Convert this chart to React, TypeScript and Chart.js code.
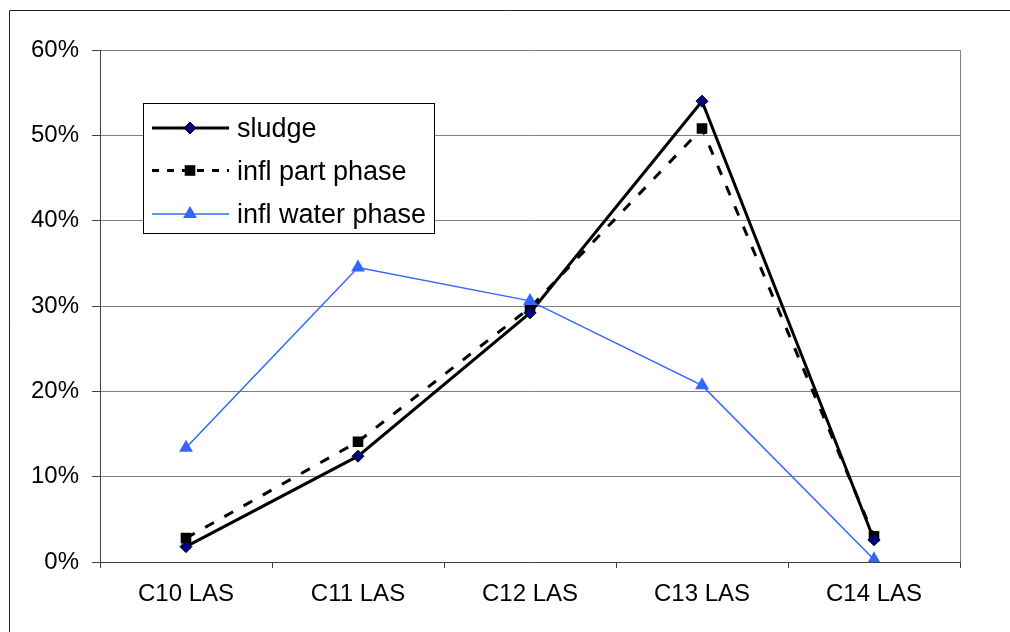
import React, { useEffect, useRef } from 'react';
import { Chart, registerables } from 'chart.js';

Chart.register(...registerables);

const categories = ['C10 LAS', 'C11 LAS', 'C12 LAS', 'C13 LAS', 'C14 LAS'];
const sludge = [1.8, 12.4, 29.2, 54.0, 2.6];
const inflPart = [2.8, 14.1, 29.8, 50.8, 3.0];
const inflWater = [13.4, 34.5, 30.6, 20.7, 0.3];
const yTickLabels = ['0%', '10%', '20%', '30%', '40%', '50%', '60%'];
const seriesNames = ['sludge', 'infl part phase', 'infl water phase'];

const FONT = 'Liberation Sans, Arial, sans-serif';
const BLUE = '#3366ff';

function drawMarker(ctx: CanvasRenderingContext2D, style: string, x: number, y: number, r: number, fill: string, stroke: string, bw: number) {
  ctx.save();
  ctx.setLineDash([]);
  ctx.beginPath();
  if (style === 'rectRot') {
    ctx.moveTo(x, y - r);
    ctx.lineTo(x + r, y);
    ctx.lineTo(x, y + r);
    ctx.lineTo(x - r, y);
    ctx.closePath();
  } else if (style === 'rect') {
    const s = Math.SQRT1_2 * r;
    ctx.rect(x - s, y - s, 2 * s, 2 * s);
  } else {
    const a = (2 * Math.PI) / 3;
    ctx.moveTo(x, y - r);
    ctx.lineTo(x + Math.sin(a) * r, y - Math.cos(a) * r);
    ctx.lineTo(x - Math.sin(a) * r, y - Math.cos(a) * r);
    ctx.closePath();
  }
  ctx.fillStyle = fill;
  ctx.fill();
  if (bw > 0) {
    ctx.strokeStyle = stroke;
    ctx.lineWidth = bw;
    ctx.stroke();
  }
  ctx.restore();
}

const framePlugin = {
  id: 'frame',
  beforeDatasetsDraw(chart: any) {
    const { ctx, chartArea } = chart;
    ctx.save();
    ctx.strokeStyle = '#808080';
    ctx.lineWidth = 1;
    ctx.beginPath();
    ctx.moveTo(Math.round(chartArea.right) + 0.5, chartArea.top);
    ctx.lineTo(Math.round(chartArea.right) + 0.5, chartArea.bottom);
    ctx.stroke();
    ctx.restore();
  },
  afterDraw(chart: any) {
    const ctx = chart.ctx as CanvasRenderingContext2D;
    ctx.save();
    ctx.strokeStyle = '#222';
    ctx.lineWidth = 1;
    ctx.beginPath();
    ctx.moveTo(9.5, 640);
    ctx.lineTo(9.5, 10.5);
    ctx.lineTo(1020, 10.5);
    ctx.stroke();

    const bx = 143.5, by = 103.5, bw = 291, bh = 130;
    ctx.fillStyle = '#fff';
    ctx.fillRect(bx, by, bw, bh);
    ctx.strokeStyle = '#000';
    ctx.strokeRect(bx, by, bw, bh);
    const rows = [128, 170.5, 214];
    const legendDash = [[], [7, 8], []];
    chart.data.datasets.forEach((ds: any, i: number) => {
      const y = rows[i];
      ctx.save();
      ctx.strokeStyle = ds.borderColor;
      ctx.lineWidth = ds.borderWidth;
      ctx.setLineDash(legendDash[i]);
      ctx.beginPath();
      ctx.moveTo(152, y);
      ctx.lineTo(229, y);
      ctx.stroke();
      ctx.restore();
      drawMarker(ctx, ds.pointStyle, 190, y, ds.pointRadius, ds.pointBackgroundColor, ds.pointBorderColor, ds.pointBorderWidth);
      ctx.fillStyle = '#000';
      ctx.font = `27px ${FONT}`;
      ctx.textAlign = 'left';
      ctx.textBaseline = 'alphabetic';
      ctx.fillText(ds.label, 237, y + 9);
    });
    ctx.restore();
  },
};

export default function App() {
  const ref = useRef<HTMLCanvasElement>(null);
  useEffect(() => {
    const chart = new Chart(ref.current!, {
      type: 'line',
      data: {
        labels: categories,
        datasets: [
          {
            label: seriesNames[0],
            data: sludge,
            borderColor: '#000',
            borderWidth: 3,
            pointStyle: 'rectRot',
            pointRadius: 6,
            pointBackgroundColor: '#000080',
            pointBorderColor: '#000',
            pointBorderWidth: 1,
            tension: 0,
            order: 1,
          },
          {
            label: seriesNames[1],
            data: inflPart,
            borderColor: '#000',
            borderWidth: 3,
            borderDash: [10, 12],
            pointStyle: 'rect',
            pointRadius: 7.5,
            pointBackgroundColor: '#000',
            pointBorderColor: '#000',
            pointBorderWidth: 0,
            tension: 0,
            order: 2,
          },
          {
            label: seriesNames[2],
            data: inflWater,
            borderColor: BLUE,
            borderWidth: 1.5,
            pointStyle: 'triangle',
            pointRadius: 8,
            pointBackgroundColor: BLUE,
            pointBorderColor: BLUE,
            pointBorderWidth: 0,
            tension: 0,
            order: 0,
          },
        ] as any,
      },
      options: {
        responsive: false,
        animation: false,
        devicePixelRatio: 1,
        layout: { padding: { left: 0, top: 50, right: 50, bottom: 0 } },
        plugins: { legend: { display: false }, tooltip: { enabled: false } },
        scales: {
          x: {
            offset: true,
            grid: { offset: true, drawOnChartArea: false, drawTicks: true, tickLength: 6, tickColor: '#404040' },
            border: { color: '#404040', width: 1 },
            ticks: { font: { family: FONT, size: 24 }, color: '#000', padding: 12, maxRotation: 0 },
            afterFit: (s: any) => { s.height = 70; },
          },
          y: {
            min: 0,
            max: 60,
            ticks: {
              stepSize: 10,
              font: { family: FONT, size: 24 },
              color: '#000',
              padding: 13,
              callback: (_v: any, i: number) => yTickLabels[i],
            },
            grid: { color: '#808080', tickColor: '#404040', tickLength: 8 },
            border: { color: '#404040', width: 1 },
            afterFit: (s: any) => { s.width = 100; },
          },
        },
      } as any,
      plugins: [framePlugin],
    });
    return () => chart.destroy();
  }, []);
  return (
    <canvas
      ref={ref}
      width={1010}
      height={632}
      style={{ position: 'absolute', left: 0, top: 0, display: 'block', background: '#fff' }}
    />
  );
}
